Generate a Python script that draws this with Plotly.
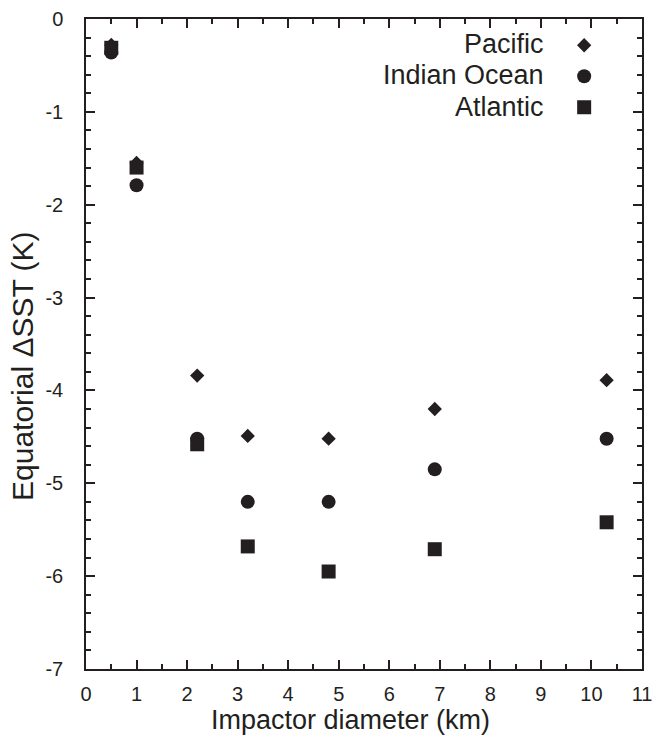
import plotly.graph_objects as go

diameter = [0.5, 1.0, 2.2, 3.2, 4.8, 6.9, 10.3]
pacific = [-0.28, -1.55, -3.84, -4.49, -4.52, -4.20, -3.89]
indian = [-0.36, -1.79, -4.52, -5.20, -5.20, -4.85, -4.52]
atlantic = [-0.31, -1.60, -4.58, -5.68, -5.95, -5.71, -5.42]
series_names = ["Pacific", "Indian Ocean", "Atlantic"]
x_ticks = list(range(0, 12))
x_ticklabels = [str(v) for v in x_ticks]
y_ticks = [0, -1, -2, -3, -4, -5, -6, -7]
y_ticklabels = ["0", "-1", "-2", "-3", "-4", "-5", "-6", "-7"]
x_title = "Impactor diameter (km)"
y_title = "Equatorial ΔSST (K)"

INK = "#231f20"
FONT = "Liberation Sans, Arial, Helvetica, sans-serif"

fig = go.Figure()
specs = [(pacific, "diamond", 11), (indian, "circle", 14), (atlantic, "square", 14)]
for i, (vals, sym, sz) in enumerate(specs):
    fig.add_trace(go.Scatter(
        x=diameter, y=vals, mode="markers", name=" ",
        legendgroup=series_names[i],
        hovertemplate=series_names[i] + ": %{x}, %{y}<extra></extra>",
        marker=dict(symbol=sym, size=sz, color=INK, line=dict(width=0)),
    ))

axis_common = dict(
    showline=True, linecolor=INK, linewidth=1.5, mirror="ticks",
    ticks="inside", ticklen=9, tickwidth=1.5, tickcolor=INK,
    showgrid=False, zeroline=False, automargin=False,
    tickfont=dict(family=FONT, size=20, color=INK),
)

fig.update_xaxes(
    range=[0, 11], tickvals=x_ticks, ticktext=x_ticklabels,
    minor=dict(dtick=0.5, ticks="inside", ticklen=5, tickwidth=1.5, tickcolor=INK),
    ticklabelstandoff=6,
    **axis_common,
)
fig.update_yaxes(
    range=[-7, 0], tickvals=y_ticks, ticktext=y_ticklabels,
    minor=dict(dtick=0.2, ticks="inside", ticklen=5, tickwidth=1.5, tickcolor=INK),
    ticklabelstandoff=17,
    **axis_common,
)

# axis titles as annotations (to match the reference's offset placement)
fig.add_annotation(
    x=0.4766, y=-0.1040, xref="paper", yref="paper", xanchor="center", yanchor="bottom",
    text=x_title, showarrow=False, font=dict(family=FONT, size=27, color=INK),
)
fig.add_annotation(
    x=-0.1133, y=0.4662, xref="paper", yref="paper", xanchor="center", yanchor="middle",
    text=y_title, textangle=-90, showarrow=False, font=dict(family=FONT, size=30, color=INK),
)

ann_y = [0.9615, 0.9138, 0.8646]
for name, yy in zip(series_names, ann_y):
    fig.add_annotation(
        x=0.8275, y=yy, xref="paper", yref="paper", xanchor="right", yanchor="middle",
        text=name, showarrow=False, font=dict(family=FONT, size=27, color=INK),
    )

fig.update_layout(
    width=665, height=737,
    margin=dict(l=86, r=23, t=19, b=68),
    paper_bgcolor="white", plot_bgcolor="white",
    showlegend=True,
    legend=dict(x=0.860, y=0.9896, xanchor="left", yanchor="top",
                font=dict(family=FONT, size=20, color=INK),
                bgcolor="rgba(0,0,0,0)", tracegroupgap=2, itemwidth=30),
)

fig.write_html("out.html", config={"displayModeBar": False},
               post_script="document.body.style.margin='0';")
